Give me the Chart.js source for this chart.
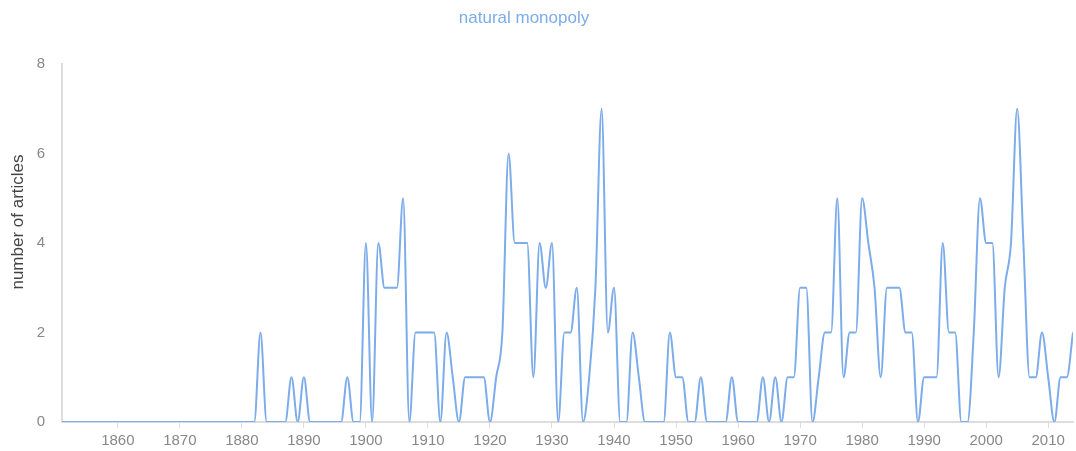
<!DOCTYPE html>
<html>
<head>
<meta charset="utf-8">
<script src="https://cdn.jsdelivr.net/npm/chart.js@4"></script>
<style>
  html, body { margin: 0; padding: 0; background: #fff; }
  #wrap { width: 1076px; height: 451px; position: relative; }
</style>
</head>
<body>
<div id="wrap"><canvas id="grafico"></canvas></div>
<script>
// articles per year mentioning the phrase, 1851 onwards
const primeiroAno = 1851;
const artigos = [
  0, 0, 0, 0, 0, 0, 0, 0, 0,          // 1851-1859
  0, 0, 0, 0, 0, 0, 0, 0, 0, 0,       // 1860s
  0, 0, 0, 0, 0, 0, 0, 0, 0, 0,       // 1870s
  0, 0, 0, 2, 0, 0, 0, 0, 1, 0,       // 1880s
  1, 0, 0, 0, 0, 0, 0, 1, 0, 0,       // 1890s
  4, 0, 4, 3, 3, 3, 5, 0, 2, 2,       // 1900s
  2, 2, 0, 2, 1, 0, 1, 1, 1, 1,       // 1910s
  0, 1, 2, 6, 4, 4, 4, 1, 4, 3,       // 1920s
  4, 0, 2, 2, 3, 0, 1, 3, 7, 2,       // 1930s
  3, 0, 0, 2, 1, 0, 0, 0, 0, 2,       // 1940s
  1, 1, 0, 0, 1, 0, 0, 0, 0, 1,       // 1950s
  0, 0, 0, 0, 1, 0, 1, 0, 1, 1,       // 1960s
  3, 3, 0, 1, 2, 2, 5, 1, 2, 2,       // 1970s
  5, 4, 3, 1, 3, 3, 3, 2, 2, 0,       // 1980s
  1, 1, 1, 4, 2, 2, 0, 0, 2, 5,       // 1990s
  4, 4, 1, 3, 4, 7, 4, 1, 1, 2,       // 2000s
  1, 0, 1, 1, 2                       // 2010-2014
];
const anosEixo = [1860, 1870, 1880, 1890, 1900, 1910, 1920, 1930, 1940, 1950, 1960, 1970, 1980, 1990, 2000, 2010];
const ticksY = [0, 2, 4, 6, 8];

const titulo = 'natural monopoly';
const tituloY = 'number of articles';

const pontos = artigos.map((v, i) => ({ x: primeiroAno + i, y: v }));

const azul = '#7cacea';
const fonte = 'Liberation Sans, Arial, sans-serif';

// draws the chart title and the rotated y-axis title
const textos = {
  id: 'textos',
  afterDraw(chart) {
    const c = chart.ctx;
    c.save();
    c.fillStyle = azul;
    c.font = '17px ' + fonte;
    c.textAlign = 'center';
    c.textBaseline = 'middle';
    c.fillText(titulo, 524, 18);
    c.translate(18, 222);
    c.rotate(-Math.PI / 2);
    c.fillStyle = '#444';
    c.fillText(tituloY, 0, 0);
    c.restore();
  }
};

const ctx = document.getElementById('grafico').getContext('2d');

new Chart(ctx, {
  type: 'line',
  data: {
    datasets: [{
      label: titulo,
      data: pontos,
      borderColor: azul,
      borderWidth: 2,
      pointRadius: 0,
      fill: false,
      cubicInterpolationMode: 'monotone'
    }]
  },
  plugins: [textos],
  options: {
    responsive: true,
    maintainAspectRatio: false,
    animation: false,
    layout: { padding: { left: 0, right: 3, top: 64, bottom: 0 } },
    plugins: {
      legend: { display: false },
      tooltip: { enabled: false },
      title: { display: false }
    },
    scales: {
      x: {
        type: 'linear',
        min: primeiroAno,
        max: primeiroAno + artigos.length - 1,
        afterBuildTicks: s => { s.ticks = anosEixo.map(v => ({ value: v })); },
        afterFit: s => { s.height = 29; },
        grid: { drawOnChartArea: false, drawTicks: true, tickLength: 6, color: '#ddd' },
        border: { color: '#ddd', width: 2 },
        ticks: {
          color: '#888',
          padding: 4,
          maxRotation: 0,
          font: { family: fonte, size: 15 },
          callback: v => String(v)
        }
      },
      y: {
        min: 0,
        max: 8,
        afterBuildTicks: s => { s.ticks = ticksY.map(v => ({ value: v })); },
        afterFit: s => { s.width = 62; },
        grid: { display: false, drawTicks: false },
        border: { color: '#ddd', width: 2 },
        ticks: {
          color: '#888',
          padding: 17,
          font: { family: fonte, size: 15 }
        }
      }
    }
  }
});
</script>
</body>
</html>
